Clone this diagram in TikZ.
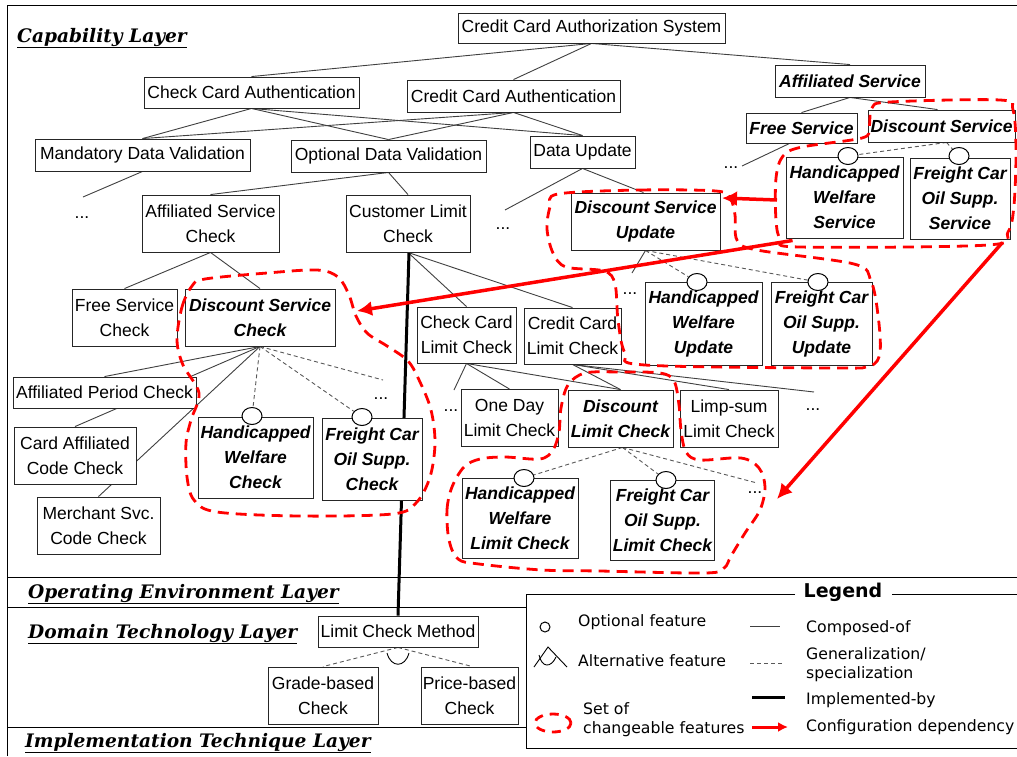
\documentclass[tikz,border=0pt]{standalone}
\usepackage{fontspec}
\setmainfont{Liberation Sans}
\newfontfamily\layerfont{DejaVu Serif}
\newfontfamily\legfont{DejaVu Sans}
\usetikzlibrary{arrows.meta,shapes.geometric}
\pgfdeclarelayer{bg}
\pgfdeclarelayer{fg}
\pgfsetlayers{bg,main,fg}
\begin{document}
\begin{tikzpicture}[x=1pt,y=-1pt,
  box/.style={draw=black!85, line width=0.9pt, fill=white, inner sep=0pt, align=center, font=\fontsize{17.5}{25}\selectfont},
  bbox/.style={box, font=\fontsize{17.5}{25}\selectfont\bfseries\itshape},
  comp/.style={draw=black!75, line width=0.9pt},
  gen/.style={draw=black!65, line width=0.9pt, dash pattern=on 4pt off 3pt},
  impl/.style={draw=black, line width=3pt},
  cfg/.style={draw=red, line width=3.5pt, -{Latex[length=15pt,width=15pt]}},
  chg/.style={draw=red, line width=2.8pt, dash pattern=on 11pt off 7pt},
  opt/.style={draw=black, line width=1pt, fill=white, ellipse, minimum width=20pt, minimum height=17pt, inner sep=0pt},
  dots/.style={font=\fontsize{17.5}{20}\selectfont, inner sep=0pt},
  layer/.style={font=\fontsize{18.6}{20}\layerfont\bfseries\itshape, anchor=base west, inner sep=0pt},
  leg/.style={font=\fontsize{15.7}{20}\legfont, anchor=west, inner sep=0pt, align=left}
]
\useasboundingbox (0,0) rectangle (1017,756);

% ---------- frame and layer separators ----------
\begin{pgfonlayer}{bg}
\fill[white] (0,0) rectangle (1017,756);
\draw[line width=1pt] (7,756) -- (7,5) -- (1017,5);
\draw[line width=1pt] (7,577) -- (1017,577);
\draw[line width=1pt] (7,607) -- (526,607);
\draw[line width=1pt] (7,727) -- (526,727);
\end{pgfonlayer}

% ---------- layer titles ----------
\node[layer] (capl) at (17,42) {\underline{Capability Layer}};
\node[layer] (opel) at (28,598) {\underline{Operating Environment Layer}};
\node[layer] (doml) at (28,638) {\underline{Domain Technology Layer}};
\node[layer] (impll) at (25,747) {\underline{Implementation Technique Layer}};

% ---------- feature nodes ----------
\path
 (591.5,28) node[box, minimum width=267, minimum height=30] (ccas) {Credit Card Authorization System}
 (251.5,92.5) node[box, minimum width=215, minimum height=31] (cca) {Check Card Authentication}
 (513.5,96) node[box, minimum width=213, minimum height=32] (crca) {Credit Card Authentication}
 (850,81) node[bbox, minimum width=150, minimum height=32] (as) {Affiliated Service}
 (801.5,128) node[bbox, minimum width=111, minimum height=30] (fs) {Free Service}
 (941.5,126) node[bbox, minimum width=147, minimum height=32] (ds) {Discount Service}
 (844.5,197.5) node[bbox, minimum width=117, minimum height=81] (hws) {Handicapped\\Welfare\\Service}
 (960,198.5) node[bbox, minimum width=100, minimum height=81] (fcs) {Freight Car\\Oil Supp.\\Service}
 (142.5,155) node[box, minimum width=215, minimum height=32] (mdv) {Mandatory Data Validation}
 (388.5,156) node[box, minimum width=195, minimum height=32] (odv) {Optional Data Validation}
 (582.5,152) node[box, minimum width=105, minimum height=32] (du) {Data Update}
 (210.5,223.5) node[box, minimum width=137, minimum height=57] (asc) {Affiliated Service\\Check}
 (408,223.5) node[box, minimum width=124, minimum height=57] (clc) {Customer Limit\\Check}
 (645.5,221.5) node[bbox, minimum width=149, minimum height=57] (dsu) {Discount Service\\Update}
 (124.5,317.5) node[box, minimum width=105, minimum height=57] (fsc) {Free Service\\Check}
 (260,317.5) node[bbox, minimum width=150, minimum height=57] (dsc) {Discount Service\\Check}
 (466.5,335) node[box, minimum width=99, minimum height=56] (cclc) {Check Card\\Limit Check}
 (572.5,336) node[box, minimum width=97, minimum height=56] (crclc) {Credit Card\\Limit Check}
 (703.5,323.5) node[bbox, minimum width=117, minimum height=83] (hwu) {Handicapped\\Welfare\\Update}
 (821.5,323.5) node[bbox, minimum width=101, minimum height=83] (fcu) {Freight Car\\Oil Supp.\\Update}
 (104.5,392.5) node[box, minimum width=183, minimum height=31] (apc) {Affiliated Period Check}
 (75,455.5) node[box, minimum width=122, minimum height=57] (cacc) {Card Affiliated\\Code Check}
 (98.5,525.5) node[box, minimum width=123, minimum height=57] (mscc) {Merchant Svc.\\Code Check}
 (255.5,457.5) node[bbox, minimum width=115, minimum height=81] (hwc) {Handicapped\\Welfare\\Check}
 (372,459) node[bbox, minimum width=100, minimum height=82] (fcc) {Freight Car\\Oil Supp.\\Check}
 (509.5,418) node[box, minimum width=97, minimum height=57] (odlc) {One Day\\Limit Check}
 (620.5,418.5) node[bbox, minimum width=105, minimum height=57] (dlc) {Discount\\Limit Check}
 (729,418.5) node[box, minimum width=98, minimum height=57] (lslc) {Limp-sum\\Limit Check}
 (520,518) node[bbox, minimum width=116, minimum height=80] (hwlc) {Handicapped\\Welfare\\Limit Check}
 (662.5,520) node[bbox, minimum width=104, minimum height=80] (fclc) {Freight Car\\Oil Supp.\\Limit Check}
 (398,631.5) node[box, minimum width=160, minimum height=31] (lcm) {Limit Check Method}
 (323,695.5) node[box, minimum width=110, minimum height=57] (gbc) {Grade-based\\Check}
 (469.5,695.5) node[box, minimum width=97, minimum height=57] (pbc) {Price-based\\Check};

% optional-feature circles
\path
 (848,156) node[opt] (ohws) {}
 (959,156) node[opt] (ofcs) {}
 (252,416) node[opt] (ohwc) {}
 (362,417) node[opt] (ofcc) {}
 (697,282) node[opt] (ohwu) {}
 (818,282) node[opt] (ofcu) {}
 (524,478) node[opt] (ohwlc) {}
 (666,480) node[opt] (ofclc) {};

% "..." marks
\path
 (82,218) node[dots] (e1) {...}
 (503,229) node[dots] (e2) {...}
 (731,168) node[dots] (e3) {...}
 (630,294) node[dots] (e4) {...}
 (381,399) node[dots] (e5) {...}
 (451,411) node[dots] (e6) {...}
 (813,410) node[dots] (e7) {...}
 (755,493) node[dots] (e8) {...};

% dangling ends
\coordinate (d1) at (83,197);
\coordinate (d2) at (505,210);
\coordinate (d3) at (742,166);
\coordinate (d4) at (632,273);
\coordinate (d5) at (454,390);
\coordinate (d6) at (814,392);
\coordinate (g1) at (383,380);
\coordinate (g2) at (757,483);

% ---------- connectors (behind boxes) ----------
\begin{pgfonlayer}{bg}
\draw[comp] (ccas.south) -- (cca.north);
\draw[comp] (ccas.south) -- (crca.north);
\draw[comp] (ccas.south) -- (as.north);
\foreach \s in {cca,crca}{
  \draw[comp] (\s.south) -- (mdv.north);
  \draw[comp] (\s.south) -- (odv.north);
  \draw[comp] (\s.south) -- (du.north);
}
\draw[comp] (mdv.south) -- (d1);
\draw[comp] (odv.south) -- (asc.north);
\draw[comp] (odv.south) -- (clc.north);
\draw[comp] (du.south) -- (d2);
\draw[comp] (du.south) -- ([xshift=-2pt]dsu.north);
\draw[comp] (as.south) -- (fs.north);
\draw[comp] (as.south) -- ([xshift=-4pt]ds.north);
\draw[comp] ([xshift=-12pt]fs.south) -- (d3);
\draw[comp] (asc.south) -- (fsc.north);
\draw[comp] (asc.south) -- (dsc.north);
\draw[comp] (dsc.south) -- (apc.north);
\draw[comp] (dsc.south) -- (cacc.north);
\draw[comp] (dsc.south) -- (mscc.north);
\draw[comp] (clc.south) -- (cclc.north);
\draw[comp] (clc.south) -- (crclc.north);
\draw[comp] (dsu.south) -- (d4);
\draw[comp] (cclc.south) -- (d5);
\draw[comp] (cclc.south) -- (odlc.north);
\draw[comp] (cclc.south) -- (dlc.north);
\draw[comp] (crclc.south) -- (dlc.north);
\draw[comp] (crclc.south) -- (lslc.north);
\draw[comp] (crclc.south) -- (d6);
% generalization
\draw[gen] ([xshift=5pt]ds.south) -- (ohws);
\draw[gen] ([xshift=5pt]ds.south) -- (ofcs);
\draw[gen] (dsu.south) -- (ohwu);
\draw[gen] (dsu.south) -- (ofcu);
\draw[gen] (dsc.south) -- (ohwc);
\draw[gen] (dsc.south) -- (ofcc);
\draw[gen] (dsc.south) -- (g1);
\draw[gen] ([xshift=2pt]dlc.south) -- (ohwlc);
\draw[gen] ([xshift=2pt]dlc.south) -- (ofclc);
\draw[gen] ([xshift=2pt]dlc.south) -- (g2);
\draw[gen] (lcm.south) -- (gbc.north);
\draw[gen] (lcm.south) -- ([xshift=3pt]pbc.north);
\draw[line width=0.9pt] (387,653) .. controls (391,668) and (405,668) .. (409,653);
% implemented-by
\draw[impl] ([xshift=1pt]clc.south) -- (lcm.north);
\end{pgfonlayer}

% ---------- changeable feature sets and configuration dependencies ----------
\begin{pgfonlayer}{fg}
\draw[chg] plot[smooth cycle, tension=0.55] coordinates {(869,128) (872,108) (890,102) (1000,100) (1013,110) (1016,150) (1014,205) (1008,232) (988,245) (800,247) (781,240) (776,220) (776,178) (783,156) (802,147) (862,138)};
\draw[chg] plot[smooth cycle, tension=0.55] coordinates {(558,194) (640,190) (716,191) (730,198) (735,215) (737,240) (757,250) (854,264) (871,281) (878,315) (880,352) (870,366) (834,368) (645,365) (625,353) (618,320) (615,284) (604,271) (566,267) (553,253) (547,229) (550,207)};
\draw[chg] plot[smooth cycle, tension=0.55] coordinates {(177,340) (182,307) (192,286) (205,279) (267,273) (317,270) (338,277) (349,295) (356,316) (367,333) (387,346) (408,361) (420,382) (431,410) (435,443) (430,477) (416,503) (392,514) (300,516) (217,512) (194,500) (187,477) (186,443) (191,420) (199,393) (183,365)};
\draw[chg] plot[smooth cycle, tension=0.55] coordinates {(449,540) (447,510) (452,487) (464,467) (480,459) (505,457) (540,459) (553,450) (559,432) (561,408) (568,385) (585,373) (620,372) (660,373) (674,381) (679,405) (681,430) (686,452) (700,460) (741,458) (759,468) (765,487) (760,510) (745,533) (731,556) (724,568) (705,573) (600,571) (542,570) (479,564) (458,559)};

\coordinate (a1s) at (777,200);
\coordinate (a1e) at (722,198);
\draw[cfg] (a1s) -- (a1e);
\draw[cfg] ([xshift=7pt,yshift=-2pt]hws.south west) -- (357,311);
\draw[cfg] ([xshift=-8pt,yshift=-3pt]fcs.south east) -- (777,499);
\end{pgfonlayer}

% ---------- legend ----------
\draw[line width=1pt] (795,594) -- (526,594) -- (526,748) -- (1017,748);
\draw[line width=1pt] (892,594) -- (1017,594);
\node[font=\fontsize{19}{22}\legfont\bfseries, inner sep=0pt] (legt) at (843,592) {Legend};
\node[draw=black, line width=1pt, circle, minimum size=10pt, inner sep=0pt] (lo) at (545,627) {};
\node[leg] (lot) at (578,622) {Optional feature};
\draw[line width=0.9pt] (534,667) -- (548,647) -- (567,667);
\draw[line width=0.9pt] (539,655) .. controls (542,668) and (551,668) .. (556,657);
\node[leg] (lat) at (578,661) {Alternative feature};
\draw[chg, dash pattern=on 9pt off 7pt] (553,723) ellipse (18pt and 9pt);
\node[leg] (lst) at (583,720) {Set of\\[-1pt]changeable features};
\draw[comp] (750,626) -- (780,626);
\node[leg] (lct) at (806,628) {Composed-of};
\draw[gen] (750,663) -- (782,663);
\node[leg] (lgt) at (806,665) {Generalization/\\[-1pt]specialization};
\draw[impl] (752,697) -- (785,697);
\node[leg] (lit) at (806,700) {Implemented-by};
\draw[draw=red, line width=3pt, -{Latex[length=10pt,width=10pt]}] (752,727) -- (788,727);
\node[leg] (lcd) at (806,727) {Configuration dependency};
\end{tikzpicture}
\end{document}
